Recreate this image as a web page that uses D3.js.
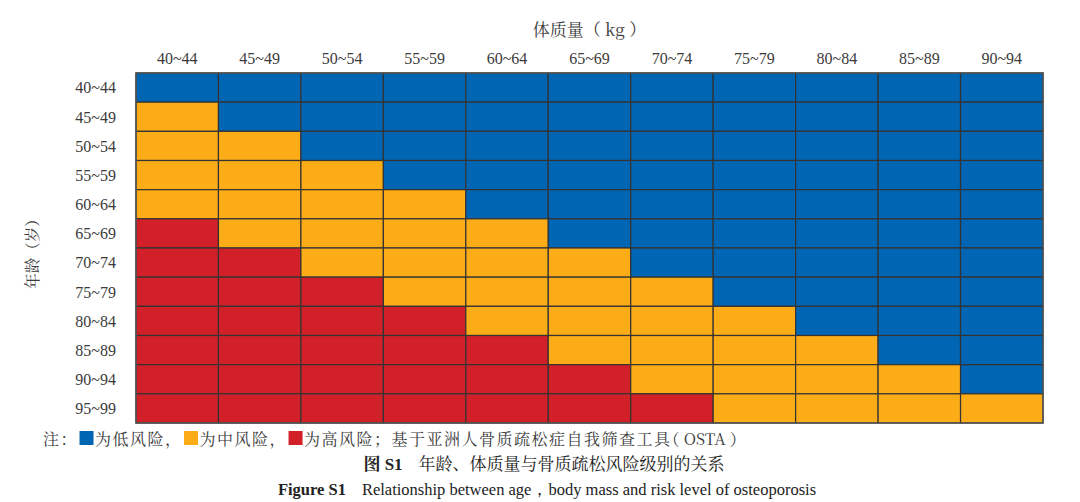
<!DOCTYPE html>
<html><head><meta charset="utf-8">
<script src="https://cdn.jsdelivr.net/npm/d3@7"></script>
<style>body{margin:0;background:#fff}svg{display:block}</style>
</head><body><svg id="c" width="1080" height="502"></svg>
<script>
const weights = ["40~44","45~49","50~54","55~59","60~64","65~69","70~74","75~79","80~84","85~89","90~94"];
const ages = ["40~44","45~49","50~54","55~59","60~64","65~69","70~74","75~79","80~84","85~89","90~94","95~99"];
// risk level per age row, per weight column: 0 = low, 1 = medium, 2 = high
const risk = [
  [0,0,0,0,0,0,0,0,0,0,0],
  [1,0,0,0,0,0,0,0,0,0,0],
  [1,1,0,0,0,0,0,0,0,0,0],
  [1,1,1,0,0,0,0,0,0,0,0],
  [1,1,1,1,0,0,0,0,0,0,0],
  [2,1,1,1,1,0,0,0,0,0,0],
  [2,2,1,1,1,1,0,0,0,0,0],
  [2,2,2,1,1,1,1,0,0,0,0],
  [2,2,2,2,1,1,1,1,0,0,0],
  [2,2,2,2,2,1,1,1,1,0,0],
  [2,2,2,2,2,2,1,1,1,1,0],
  [2,2,2,2,2,2,2,1,1,1,1]
];
const riskNames = ["低风险","中风险","高风险"];
const riskColors = ["#0065b3","#fcac17","#d12027"];

const svg = d3.select("#c");
const L = 136, R = 1043, T = 73, B = 423;
const x = d3.scaleBand().domain(weights).range([L, R]);
const y = d3.scaleBand().domain(ages).range([T, B]);
const color = d3.scaleOrdinal().domain([0,1,2]).range(riskColors);
const txt = "#3b3b3b";
const cjk = "'Noto Serif CJK SC','Noto Sans CJK SC',serif";
const lat = "'Liberation Serif','Times New Roman',serif";

const cells = [];
risk.forEach((row, i) => row.forEach((v, j) => cells.push({age: ages[i], w: weights[j], v})));
svg.append("g").selectAll("rect").data(cells).join("rect")
  .attr("x", d => x(d.w)).attr("y", d => y(d.age))
  .attr("width", x.bandwidth()).attr("height", y.bandwidth())
  .attr("fill", d => color(d.v))
  .attr("stroke", "#333").attr("stroke-width", 1.2);
svg.append("rect").attr("x", L).attr("y", T).attr("width", R-L).attr("height", B-T)
  .attr("fill","none").attr("stroke","#555").attr("stroke-width",1.5);

// axes
const xa = svg.append("g").attr("transform", `translate(0,${T})`)
  .call(d3.axisTop(x).tickSize(0).tickPadding(9));
const ya = svg.append("g").attr("transform", `translate(${L},0)`)
  .call(d3.axisLeft(y).tickSize(0).tickPadding(20));
[xa, ya].forEach(a => {
  a.select(".domain").remove();
  a.selectAll("text").attr("font-family", lat).attr("font-size", 16).attr("fill", txt);
});
ya.selectAll("text").attr("dy", "0.36em");

// axis titles
svg.append("text").attr("x", (L+R)/2).attr("y", 36).attr("text-anchor","middle")
  .attr("font-family", cjk).attr("font-size", 17).attr("fill", txt).text("体质量（ kg ）");
svg.append("text").attr("transform", `translate(38,${(T+B)/2+2}) rotate(-90)`).attr("text-anchor","middle")
  .attr("font-family", cjk).attr("font-size", 15.5).attr("fill", txt).text("年龄（岁）");

// note line with colour boxes
const segs = [
  {t:"注："},{b:0},{t:"为"+riskNames[0]+"，"},{b:1},{t:"为"+riskNames[1]+"，"},{b:2},
  {t:"为"+riskNames[2]+"；基于亚洲人骨质疏松症自我筛查工具"},{t:"（ OSTA ）", halt:true}
];
let cx = 43;
const ny = 445;
segs.forEach(s => {
  if (s.t !== undefined) {
    const el = svg.append("text").attr("x", cx).attr("y", ny)
      .attr("font-family", cjk).attr("font-size", 16)
      .attr("letter-spacing", s.halt ? 0 : 1.5).attr("fill", txt).text(s.t);
    if (s.halt) el.style("font-feature-settings", "'halt' 1");
    cx += el.node().getComputedTextLength();
  } else {
    svg.append("rect").attr("x", cx+1.5).attr("y", ny-14).attr("width", 14).attr("height", 14)
      .attr("fill", riskColors[s.b]);
    cx += 17;
  }
});

// captions
const c1 = svg.append("text").attr("x", 544).attr("y", 470).attr("text-anchor","middle")
  .attr("font-size", 17).attr("fill", "#222");
c1.append("tspan").attr("font-family", cjk).attr("font-weight","bold").text("图 ");
c1.append("tspan").attr("font-family", lat).attr("font-weight","bold").text("S1");
c1.append("tspan").attr("font-family", cjk).attr("dx", 16).text("年龄、体质量与骨质疏松风险级别的关系");
const c2 = svg.append("text").attr("x", 547).attr("y", 495).attr("text-anchor","middle")
  .attr("font-family", lat).attr("font-size", 16.5).attr("fill", "#222");
c2.append("tspan").attr("font-weight","bold").text("Figure S1");
c2.append("tspan").attr("dx", 16).text("Relationship between age，body mass and risk level of osteoporosis");
</script></body></html>
